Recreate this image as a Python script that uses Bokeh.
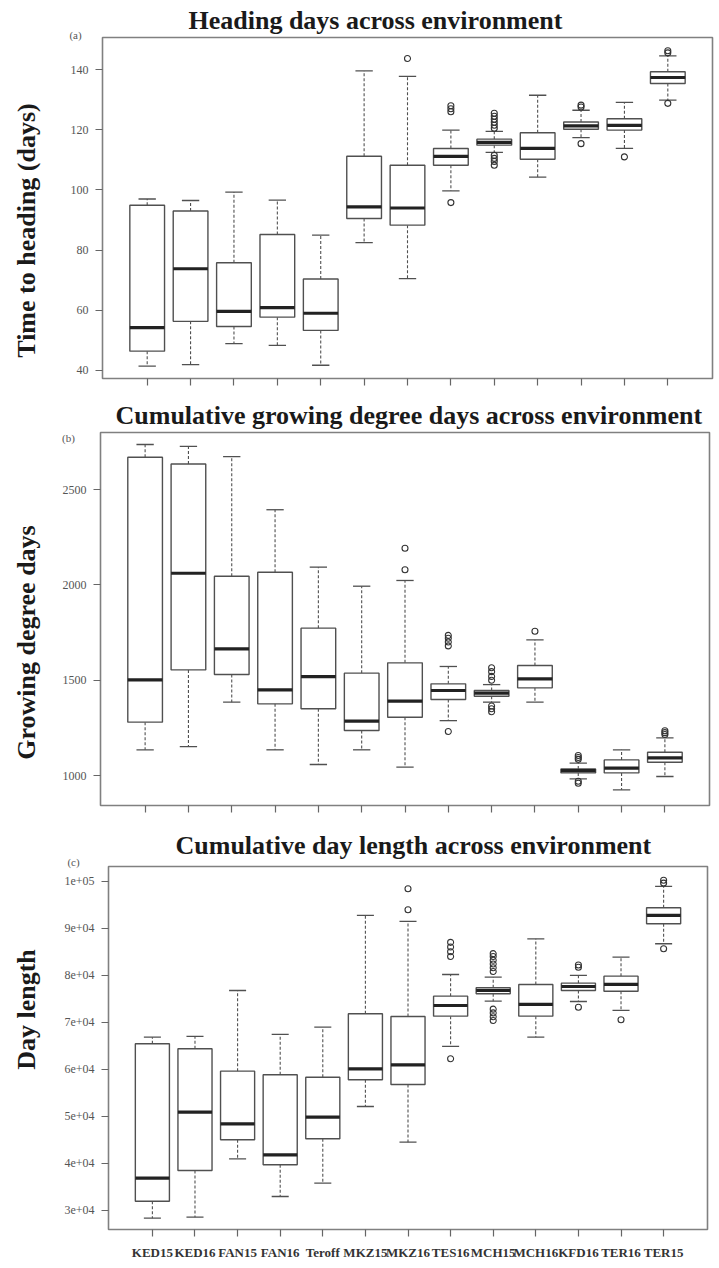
import numpy as np
from bokeh.plotting import figure
from bokeh.layouts import column
from bokeh.models import Range1d, FixedTicker, Label, Title
from bokeh.embed import file_html
from bokeh.resources import INLINE

# ---------------- data ----------------
categories = ["KED15", "KED16", "FAN15", "FAN16", "Teroff", "MKZ15", "MKZ16",
              "TES16", "MCH15", "MCH16", "KFD16", "TER16", "TER15"]

# (a) Time to heading (days)
heading_lo = [41.4, 41.9, 48.9, 48.3, 41.7, 82.5, 70.5, 99.7, 112.5, 104.3, 117.4, 113.8, 129.9]
heading_q1 = [46.4, 56.3, 54.6, 57.7, 53.3, 90.5, 88.3, 108.2, 114.9, 110.2, 120.2, 119.9, 135.4]
heading_med = [54.2, 73.8, 59.6, 60.9, 59.0, 94.4, 94.0, 111.2, 115.8, 113.8, 121.3, 121.5, 137.4]
heading_q3 = [94.9, 93.0, 75.8, 85.2, 70.4, 111.2, 108.2, 113.8, 116.9, 119.0, 122.6, 123.7, 139.3]
heading_hi = [97.0, 96.5, 99.3, 96.6, 85.0, 139.6, 137.8, 119.9, 119.5, 131.5, 126.5, 129.1, 144.6]
heading_out_cat = ["MKZ16", "TES16", "TES16", "TES16", "TES16",
                   "MCH15", "MCH15", "MCH15", "MCH15", "MCH15", "MCH15",
                   "MCH15", "MCH15", "MCH15", "MCH15",
                   "KFD16", "KFD16", "KFD16", "TER16", "TER15", "TER15", "TER15"]
heading_out_val = [143.7, 126.0, 127.0, 128.0, 95.8,
                   120.5, 121.5, 122.5, 123.5, 124.5, 125.5,
                   111.5, 110.5, 109.5, 108.2,
                   127.6, 128.2, 115.4, 111.0, 145.6, 146.3, 128.8]
heading_ticks = [40, 60, 80, 100, 120, 140]

# (b) Growing degree days
gdd_lo = [1135, 1152, 1385, 1135, 1058, 1135, 1044, 1288, 1385, 1385, 983, 925, 995]
gdd_q1 = [1280, 1554, 1530, 1376, 1350, 1236, 1306, 1399, 1416, 1460, 1014, 1014, 1070]
gdd_med = [1502, 2061, 1664, 1449, 1519, 1285, 1390, 1446, 1432, 1507, 1026, 1039, 1093]
gdd_q3 = [2669, 2634, 2045, 2066, 1773, 1537, 1591, 1481, 1446, 1577, 1035, 1082, 1122]
gdd_hi = [2736, 2726, 2673, 2394, 2093, 1993, 2023, 1572, 1477, 1712, 1065, 1135, 1198]
gdd_out_cat = ["MKZ16", "MKZ16", "TES16", "TES16", "TES16", "TES16", "TES16",
               "MCH15", "MCH15", "MCH15", "MCH15", "MCH15", "MCH15", "MCH15",
               "MCH16", "KFD16", "KFD16", "KFD16", "KFD16", "KFD16",
               "TER15", "TER15", "TER15"]
gdd_out_val = [2079, 2192, 1680, 1700, 1720, 1735, 1231,
               1500, 1520, 1545, 1565, 1365, 1350, 1335,
               1757, 1085, 1095, 1105, 970, 960,
               1215, 1225, 1235]
gdd_ticks = [1000, 1500, 2000, 2500]

# (c) Day length
day_lo = [28360, 28580, 40990, 32980, 35800, 52110, 44520, 64870, 74500, 66850, 74430, 72520, 86700]
day_q1 = [31980, 38500, 45030, 39720, 45240, 57780, 56790, 71310, 76070, 71310, 76770, 76620, 90950]
day_med = [36870, 50900, 48430, 41840, 49840, 60120, 60970, 73580, 76770, 73800, 77620, 78050, 92720]
day_q3 = [65440, 64380, 59620, 58850, 58340, 71820, 71240, 75560, 77350, 78050, 78330, 79820, 94350]
day_hi = [66850, 67000, 76770, 67420, 68970, 92720, 91440, 80170, 79600, 87760, 80000, 83850, 98880]
day_out_cat = ["MKZ16", "MKZ16", "TES16", "TES16", "TES16", "TES16", "TES16",
               "MCH15", "MCH15", "MCH15", "MCH15", "MCH15", "MCH15",
               "MCH15", "MCH15", "MCH15", "MCH15",
               "KFD16", "KFD16", "KFD16", "TER16", "TER15", "TER15", "TER15"]
day_out_val = [93930, 98390, 84000, 85000, 86000, 87000, 62250,
               80800, 81600, 82400, 83200, 84000, 84600,
               72800, 72000, 71200, 70400,
               81700, 82200, 73220, 70540, 99600, 100200, 85630]
day_ticks = [30000, 40000, 50000, 60000, 70000, 80000, 90000, 100000]
day_tick_labels = ["3e+04", "4e+04", "5e+04", "6e+04", "7e+04", "8e+04", "9e+04", "1e+05"]

titles = ["Heading days across environment",
          "Cumulative growing degree days across environment",
          "Cumulative day length across environment"]
ylabels = ["Time to heading (days)", "Growing degree days", "Day length"]
tags = ["(a)", "(b)", "(c)"]

# ---------------- styling / layout ----------------
SERIF = "Liberation Serif"
FIG_W = 719
X0, X1 = -0.03, 14.03
BOX_W, CAP_W = 0.8, 0.4
LINE_C, MED_C = "#505050", "#222222"
TICK_OUT, TICK_STANDOFF = 7, 7
YLAB_H, TAG_W = 29, 12          # estimated side-panel sizes of the y label / tag

# page-pixel geometry: fig top, fig height, frame top/bottom/left/right, text anchors
geoms = [
    dict(top=0, h=394, ft=37, fb=378, fl=102, fr=712, yr=(37.3, 150.7), tick_w=18,
         title_left=188, title_standoff=6, tag_xy=(78, 34), ylab_xy=(29, 230)),
    dict(top=394, h=426, ft=432, fb=805, fl=100, fr=709, yr=(843, 2799), tick_w=24,
         title_left=115, title_standoff=6, tag_xy=(72, 437), ylab_xy=(29, 642)),
    dict(top=820, h=448, ft=866, fb=1229, fl=108, fr=707, yr=(25960, 103125), tick_w=30,
         title_left=175, title_standoff=14, tag_xy=(76, 861), ylab_xy=(29, 1009)),
]


def make_panel(i, lo, q1, med, q3, hi, out_cat, out_val, ticks, tick_labels, bottom_labels):
    g = geoms[i]
    p = figure(width=FIG_W, height=g["h"], output_backend="svg", toolbar_location=None,
               x_range=Range1d(X0, X1), y_range=Range1d(*g["yr"]),
               min_border_left=g["fl"],
               min_border_right=FIG_W - g["fr"],
               min_border_top=g["ft"] - g["top"],
               min_border_bottom=g["top"] + g["h"] - g["fb"],
               frame_align=False)
    p.xgrid.visible = False
    p.ygrid.visible = False
    p.outline_line_color = "#808080"
    p.outline_line_width = 1.6
    p.background_fill_color = "white"
    p.border_fill_color = "white"

    xs = np.arange(1, len(categories) + 1)
    pos = {c: k + 1 for k, c in enumerate(categories)}
    lo, q1, med, q3, hi = map(np.asarray, (lo, q1, med, q3, hi))

    # whiskers (dashed)
    p.segment(x0=xs, y0=q3, x1=xs, y1=hi, line_color=LINE_C, line_width=1.1, line_dash="3 2")
    p.segment(x0=xs, y0=q1, x1=xs, y1=lo, line_color=LINE_C, line_width=1.1, line_dash="3 2")
    # caps
    p.segment(x0=xs - CAP_W / 2, y0=hi, x1=xs + CAP_W / 2, y1=hi, line_color=LINE_C, line_width=1.3)
    p.segment(x0=xs - CAP_W / 2, y0=lo, x1=xs + CAP_W / 2, y1=lo, line_color=LINE_C, line_width=1.3)
    # boxes
    p.vbar(x=xs, width=BOX_W, bottom=q1, top=q3, fill_color="white",
           line_color=LINE_C, line_width=1.4)
    # medians
    p.segment(x0=xs - BOX_W / 2, y0=med, x1=xs + BOX_W / 2, y1=med,
              line_color=MED_C, line_width=3.2)
    # outliers
    ox = [pos[c] for c in out_cat]
    p.scatter(x=ox, y=out_val, marker="circle", size=6, fill_color=None,
              line_color="#333333", line_width=1.1)

    # axes
    for ax in (p.xaxis[0], p.yaxis[0]):
        ax.axis_line_color = None
        ax.major_tick_line_color = "#666666"
        ax.major_tick_line_width = 1.2
        ax.major_tick_out = TICK_OUT
        ax.major_tick_in = 0
        ax.minor_tick_line_color = None
    p.yaxis.ticker = FixedTicker(ticks=ticks)
    if tick_labels is not None:
        p.yaxis.major_label_overrides = {t: l for t, l in zip(ticks, tick_labels)}
    p.yaxis.major_label_text_font = SERIF
    p.yaxis.major_label_text_font_size = "12px"
    p.yaxis.major_label_text_color = "#555555"
    p.yaxis.major_label_standoff = TICK_STANDOFF

    p.xaxis.ticker = FixedTicker(ticks=list(xs))
    if bottom_labels:
        p.xaxis.major_label_overrides = {int(k + 1): c for k, c in enumerate(categories)}
        p.xaxis.major_label_text_font = SERIF
        p.xaxis.major_label_text_font_style = "bold"
        p.xaxis.major_label_text_font_size = "13px"
        p.xaxis.major_label_text_color = "#333333"
        p.xaxis.major_label_standoff = 8
    else:
        p.xaxis.major_label_overrides = {int(k + 1): "" for k in range(len(categories))}
        p.xaxis.major_label_text_font_size = "1px"
        p.xaxis.major_label_standoff = 0

    # y label and tag live in their own left side panels (outside the axis panel)
    axis_left = g["fl"] - TICK_OUT - TICK_STANDOFF - g["tick_w"]
    ylab_left = axis_left - YLAB_H
    lx, ly = g["ylab_xy"]
    p.add_layout(Label(x=lx - ylab_left, y=g["fb"] - ly, x_units="screen", y_units="screen",
                       text=ylabels[i], text_font=SERIF, text_font_style="bold",
                       text_font_size="26px", text_align="center", text_baseline="middle",
                       angle=np.pi / 2, text_color="#1a1a1a"), "left")
    tag_left = ylab_left - TAG_W
    tx, ty = g["tag_xy"]
    p.add_layout(Label(x=tx - tag_left, y=g["fb"] - ty, x_units="screen", y_units="screen",
                       text=tags[i], text_font=SERIF, text_font_size="11px",
                       text_align="center", text_baseline="middle", text_color="#555555"),
                 "left")
    # main title
    p.add_layout(Title(text=titles[i], align="left", offset=g["title_left"] - g["fl"],
                       standoff=g["title_standoff"], text_font=SERIF, text_font_style="bold",
                       text_font_size="26px", text_color="#1a1a1a"), "above")
    return p


pa = make_panel(0, heading_lo, heading_q1, heading_med, heading_q3, heading_hi,
                heading_out_cat, heading_out_val, heading_ticks, None, False)
pb = make_panel(1, gdd_lo, gdd_q1, gdd_med, gdd_q3, gdd_hi,
                gdd_out_cat, gdd_out_val, gdd_ticks, None, False)
pc = make_panel(2, day_lo, day_q1, day_med, day_q3, day_hi,
                day_out_cat, day_out_val, day_ticks, day_tick_labels, True)

layout = column(pa, pb, pc, spacing=0)
open("out.html", "w").write(file_html(layout, INLINE))
